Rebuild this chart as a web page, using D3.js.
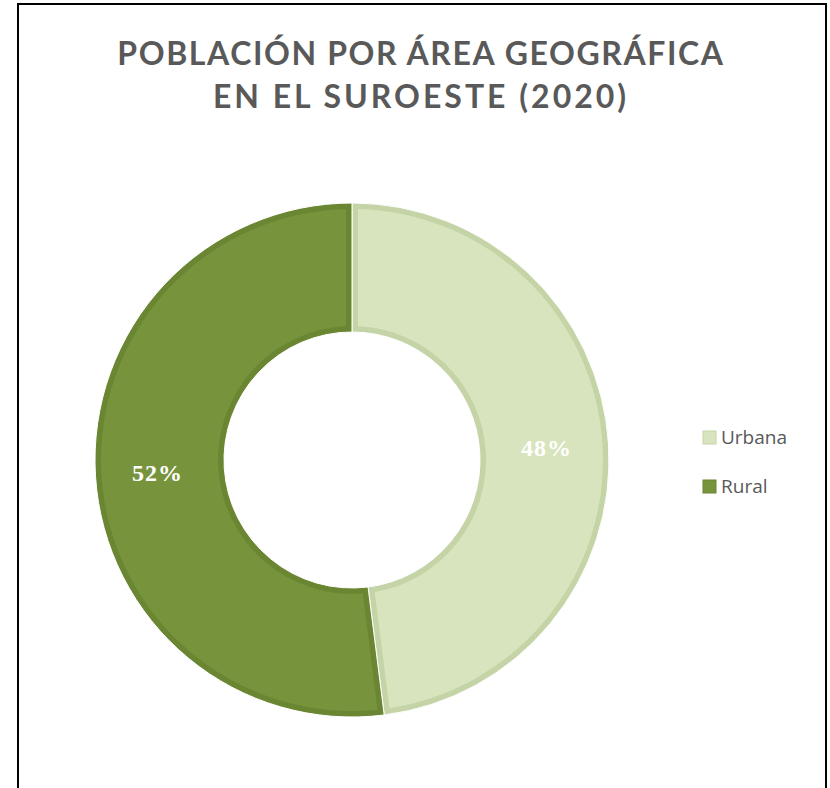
<!DOCTYPE html>
<html>
<head>
<meta charset="utf-8">
<script src="https://cdn.jsdelivr.net/npm/d3@7"></script>
<style>
  body { margin: 0; background: #fff; }
</style>
</head>
<body>
<div id="chart"></div>
<script>
const w = 830
const h = 788

// data
const categories = ["Urbana", "Rural"]
const values = [48, 52]
const titleLines = ["POBLACIÓN POR ÁREA GEOGRÁFICA", "EN EL SUROESTE (2020)"]

// styles
const fills = ["#d7e4bd", "#77933c"]
const edges = ["#c4d4a6", "#6b8633"]
const titleSpacing = [1.6, 3]

const svg = d3.select("#chart")
  .append("svg")
  .attr("width", w)
  .attr("height", h)

// frame
svg.append("rect")
  .attr("x", 18)
  .attr("y", 4)
  .attr("width", 808)
  .attr("height", 820)
  .attr("fill", "none")
  .attr("stroke", "#000")
  .attr("stroke-width", 2)

// title
svg.append("g")
  .selectAll("text")
  .data(titleLines)
  .enter()
  .append("text")
  .attr("x", 421)
  .attr("y", (d, i) => 65 + i * 43)
  .attr("text-anchor", "middle")
  .attr("font-family", "Lato, sans-serif")
  .attr("font-weight", "bold")
  .attr("font-size", 32)
  .attr("letter-spacing", (d, i) => titleSpacing[i])
  .attr("fill", "#595959")
  .text(d => d)

const cx = 352, cy = 460
const outerR = 257, innerR = 128

const pie = d3.pie().sort(null).value(d => d)
const arcs = pie(values)

const arcOuter = d3.arc().innerRadius(innerR).outerRadius(outerR)
const arcInner = d3.arc()
  .innerRadius(innerR + 6)
  .outerRadius(outerR - 6)
  .padRadius(100)
  .padAngle(0.12)

const g = svg.append("g").attr("transform", "translate(" + cx + "," + cy + ")")

g.selectAll(".edge")
  .data(arcs)
  .enter()
  .append("path")
  .attr("class", "edge")
  .attr("d", arcOuter)
  .attr("fill", (d, i) => edges[i])
  .attr("stroke", "#fff")
  .attr("stroke-width", 1)

g.selectAll(".slice")
  .data(arcs)
  .enter()
  .append("path")
  .attr("class", "slice")
  .attr("d", arcInner)
  .attr("fill", (d, i) => fills[i])

// labels
const labelArc = d3.arc().innerRadius(195).outerRadius(195)
g.selectAll(".lbl")
  .data(arcs)
  .enter()
  .append("text")
  .attr("class", "lbl")
  .attr("x", d => labelArc.centroid(d)[0])
  .attr("y", d => labelArc.centroid(d)[1])
  .attr("dy", "0.35em")
  .attr("text-anchor", "middle")
  .attr("font-family", "'Liberation Serif', serif")
  .attr("font-weight", "bold")
  .attr("font-size", 24)
  .attr("letter-spacing", 1)
  .attr("fill", "#fff")
  .text(d => d.data + "%")

// legend
const legend = svg.append("g")
  .selectAll("g")
  .data(categories)
  .enter()
  .append("g")
  .attr("transform", (d, i) => "translate(703," + (431 + i * 49) + ")")

legend.append("rect")
  .attr("width", 13)
  .attr("height", 13)
  .attr("fill", (d, i) => fills[i])
  .attr("stroke", (d, i) => edges[i])
  .attr("stroke-width", 1)

legend.append("text")
  .attr("x", 18)
  .attr("y", 13)
  .attr("font-family", "'Open Sans', sans-serif")
  .attr("font-size", 19)
  .attr("fill", "#595959")
  .text(d => d)
</script>
</body>
</html>
